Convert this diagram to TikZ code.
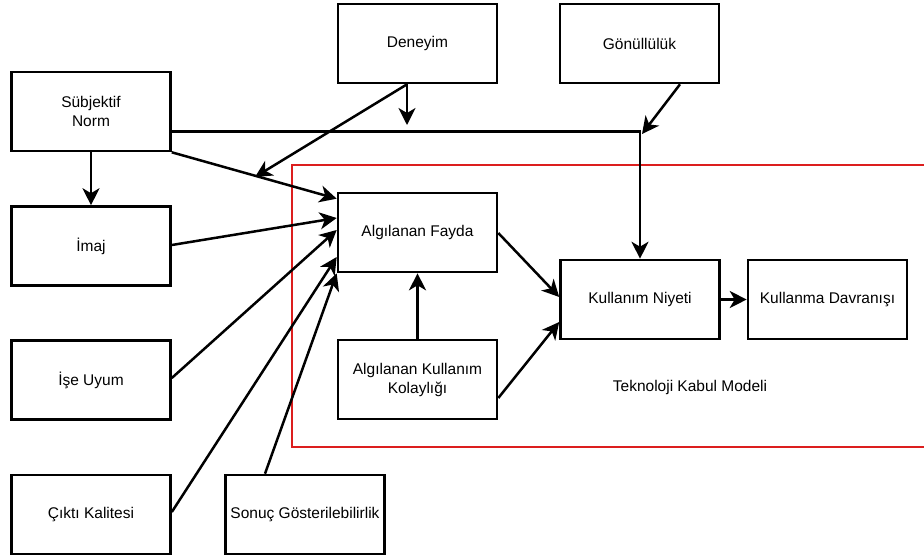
\documentclass[tikz,border=0pt]{standalone}
\usepackage{fontspec}
\setmainfont{Liberation Sans}
\usetikzlibrary{arrows.meta,calc}
\definecolor{tamred}{RGB}{220,30,30}
\tikzset{
  box/.style={draw=black, line width=2.6pt, fill=white, minimum width=159pt,
    minimum height=79pt, inner sep=0pt, align=center,
    font=\fontsize{15.5}{19}\selectfont},
  link/.style={line width=2.5pt, -{Stealth[length=17pt,width=17pt,inset=5pt]}},
  label/.style={font=\fontsize{15.5}{19}\selectfont, inner sep=0pt}
}
\begin{document}
\begin{tikzpicture}[x=1pt,y=-1pt]
\useasboundingbox (0,0) rectangle (924,558);

% TAM boundary
\begin{scope}
  \clip (0,0) rectangle (924,558);
  \draw[tamred, line width=2.2pt] (924+10,165) -- (292,165) -- (292,447) -- (924+10,447);
\end{scope}

% boxes
\node[box] (den) at (417.5,43.5) {Deneyim};
\node[box] (gon) at (639.5,43.5) {Gönüllülük};
\node[box] (sn)  at (91,111.5) {Sübjektif\\Norm};
\node[box] (ima) at (91,246) {İmaj};
\node[box] (ise) at (91,380) {İşe Uyum};
\node[box] (cik) at (91,514.5) {Çıktı Kalitesi};
\node[box] (son) at (305,514.5) {Sonuç Gösterilebilirlik};
\node[box] (af)  at (417.5,232.5) {Algılanan Fayda};
\node[box] (akk) at (417.5,379.5) {Algılanan Kullanım\\Kolaylığı};
\node[box] (kn)  at (640,299.5) {Kullanım Niyeti};
\node[box] (kd)  at (827.5,299.5) {Kullanma Davranışı};

\node[label] (tam) at (690,387) {Teknoloji Kabul Modeli};

% moderation targets
\coordinate (denA) at (407,125);
\coordinate (denB) at (255,177);
\coordinate (gonA) at (642,134);

% connectors
\draw[link] (sn.south) -- (ima.north);
\draw[link] (sn.south east) -- ($(af.north west)+(0,7)$);
\draw[link] ($(sn.east)+(0,20)$) -| (kn.north);
\draw[link] ($(den.south)+(-10.5,0)$) -- (denA);
\draw[link] ($(den.south)+(-10.5,0)$) -- (denB);
\draw[link] ($(gon.south)+(40.5,0)$) -- (gonA);
\draw[link] ($(ima.east)+(0,-1)$) -- ($(af.west)+(0,-14.5)$);
\draw[link] ($(ise.east)+(0,-2)$) -- ($(af.west)+(0,-2.5)$);
\draw[link] ($(cik.east)+(0,-2.5)$) -- ($(af.west)+(0,24.5)$);
\draw[link] ($(son.north)+(-40,0)$) -- (af.south west);
\draw[link] (akk.north) -- (af.south);
\draw[link] ($(af.east)+(0,0.5)$) -- ($(kn.west)+(0,-2.5)$);
\draw[link] ($(akk.east)+(0,18.5)$) -- ($(kn.west)+(0,22.5)$);
\draw[link] (kn.east) -- (kd.west);
\end{tikzpicture}
\end{document}
